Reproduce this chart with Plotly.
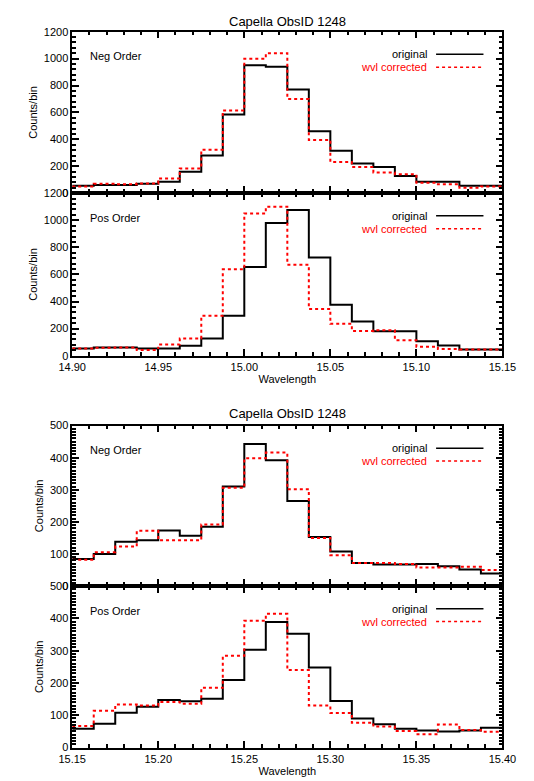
import plotly.graph_objects as go

# bin edges (0.0125 A bins)
edges_top = [round(14.90 + 0.0125 * i, 4) for i in range(21)]
edges_bot = [round(15.15 + 0.0125 * i, 4) for i in range(21)]

neg1_orig = [56, 61, 61, 71, 85, 160, 280, 585, 950, 940, 770, 460, 315, 220, 195, 127, 85, 85, 56, 56]
neg1_corr = [50, 70, 66, 73, 110, 183, 322, 615, 1000, 1040, 700, 395, 232, 195, 154, 140, 78, 66, 41, 50]
pos1_orig = [53, 60, 60, 53, 53, 73, 126, 294, 655, 980, 1075, 725, 376, 252, 180, 180, 107, 75, 46, 46]
pos1_corr = [53, 58, 60, 41, 82, 126, 294, 638, 1050, 1100, 672, 345, 235, 182, 187, 114, 66, 49, 46, 46]

neg2_orig = [84, 100, 138, 143, 173, 157, 185, 310, 443, 392, 265, 153, 108, 72, 67, 67, 69, 62, 52, 39]
neg2_corr = [82, 105, 123, 172, 143, 143, 192, 306, 398, 416, 302, 150, 96, 72, 72, 69, 58, 58, 60, 50]
pos2_orig = [58, 74, 108, 126, 147, 143, 151, 209, 303, 389, 352, 248, 144, 90, 72, 58, 53, 50, 53, 61]
pos2_corr = [67, 114, 133, 130, 141, 136, 185, 284, 393, 414, 240, 130, 107, 77, 65, 51, 41, 71, 54, 49]

W, H = 534, 781
FONT = "Liberation Sans"

panels = [
    # (edges, orig, corr, label, yrange, ydtick, yminor, domain_px)
    (edges_top, neg1_orig, neg1_corr, "Neg Order", 1200, 200, 40, (18, 182)),
    (edges_top, pos1_orig, pos1_corr, "Pos Order", 1200, 200, 40, (182, 347)),
    (edges_bot, neg2_orig, neg2_corr, "Neg Order", 500, 100, 10, (418, 581)),
    (edges_bot, pos2_orig, pos2_corr, "Pos Order", 500, 100, 10, (581, 745)),
]

fig = go.Figure()
x0, x1 = 53 / W, 507 / W

for i, (edges, orig, corr, label, ymax, dt, mn, (top, bot)) in enumerate(panels):
    n = "" if i == 0 else str(i + 1)
    for vals, color, dash in [(orig, "black", "solid"), (corr, "red", "dot")]:
        fig.add_trace(go.Scatter(
            x=edges, y=vals + [vals[-1]], mode="lines", line_shape="hv",
            line=dict(color=color, width=2, dash=dash),
            xaxis="x" + n, yaxis="y" + n, showlegend=False, hoverinfo="skip"))
    ydom = [1 - bot / H, 1 - top / H]
    show_x = i in (1, 3)
    common = dict(showline=True, mirror="allticks", linecolor="black", linewidth=1.5,
                  ticks="inside", tickcolor="black", tickwidth=1.5, ticklen=7,
                  showgrid=False, zeroline=False,
                  tickfont=dict(family=FONT, size=11, color="black"))
    fig.layout["xaxis" + n] = dict(
        domain=[x0, x1], anchor="y" + n, range=[edges[0], edges[-1]],
        dtick=0.05, tick0=edges[0], tickformat=".2f", showticklabels=show_x,
        minor=dict(dtick=0.01, ticks="inside", ticklen=4, tickcolor="black", tickwidth=1.5),
        title=dict(text="Wavelength" if show_x else "", font=dict(family=FONT, size=11, color="black"), standoff=4),
        **common)
    fig.layout["yaxis" + n] = dict(
        domain=ydom, anchor="x" + n, range=[0, ymax], dtick=dt,
        minor=dict(dtick=mn, ticks="inside", ticklen=4, tickcolor="black", tickwidth=1.5),
        title=dict(text="Counts/bin", font=dict(family=FONT, size=11, color="black"), standoff=4),
        **common)

    # panel label
    fig.add_annotation(text=label, xref="paper", yref="paper", x=70 / W, y=1 - (top + 25) / H,
                       showarrow=False, xanchor="left", yanchor="middle",
                       font=dict(family=FONT, size=11, color="black"))
    # key
    for k, (txt, color, dash) in enumerate([("original", "black", "solid"), ("wvl corrected", "red", "dot")]):
        yk = 1 - (top + 23 + 13 * k) / H
        fig.add_annotation(text=txt, xref="paper", yref="paper", x=430 / W, y=yk,
                           showarrow=False, xanchor="right", yanchor="middle",
                           font=dict(family=FONT, size=11, color=color))
        fig.add_shape(type="line", xref="paper", yref="paper", x0=437 / W, x1=487 / W, y0=yk, y1=yk,
                      line=dict(color=color, width=1.5, dash=dash))

for ytitle in (8, 406):
    fig.add_annotation(text="Capella ObsID 1248", xref="paper", yref="paper", x=(x0 + x1) / 2,
                       y=1 - ytitle / H, showarrow=False, yanchor="middle",
                       font=dict(family=FONT, size=13, color="black"))

fig.update_layout(width=W, height=H, margin=dict(l=0, r=0, t=0, b=0),
                  plot_bgcolor="white", paper_bgcolor="white")
fig.write_html("out.html")
